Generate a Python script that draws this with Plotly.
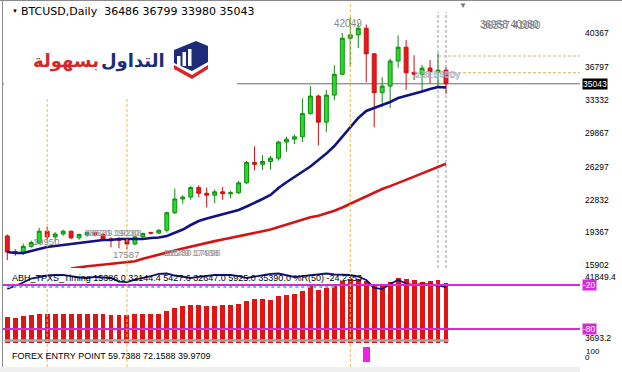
import plotly.graph_objects as go

# ---------------- data ----------------
opens = [19000, 17350, 17200, 17900, 18250, 19500, 18900, 19200, 19500, 18800,
         19150, 19350, 19150, 18700, 18600, 18550, 18150, 18900, 19350, 19300,
         19600, 21450, 22900, 23100, 24100, 23500, 23300, 23650, 23450, 23550,
         24600, 26750, 26550, 26850, 27200, 28900, 29200, 29450, 31900, 33750,
         31000, 33850, 36050, 39850, 40200, 40900, 38200, 34100, 34800, 37450,
         38900, 36250, 36050, 36700, 36300, 36486]
highs = [19150, 17600, 18200, 18500, 19850, 19950, 19400, 19650, 19550, 19250,
         19450, 19450, 19300, 18850, 18850, 18650, 19000, 19350, 19450, 19700,
         21550, 24000, 23300, 24250, 24350, 24100, 23900, 24150, 23800, 24800,
         26900, 28450, 27500, 27450, 29050, 29450, 29700, 33500, 34800, 33900,
         34400, 37000, 40400, 42049, 41400, 41300, 38250, 35750, 37700, 40150,
         39650, 38050, 37050, 37550, 38250, 36799]
lows = [16450, 16900, 17000, 17750, 18150, 18300, 18400, 19000, 18650, 18600,
        18900, 18950, 18450, 17800, 17700, 17587, 18050, 18800, 19150, 19200,
        19350, 21300, 22400, 22800, 23100, 22000, 22450, 22800, 22950, 23400,
        24450, 25900, 25950, 26000, 26950, 27900, 28700, 28900, 31800, 28550,
        29950, 33300, 35950, 36800, 38800, 35200, 30450, 32600, 32500, 36750,
        34400, 35450, 34200, 35050, 34600, 33980]
closes = [17300, 17200, 17900, 18300, 19500, 18900, 19200, 19500, 18800, 19150,
          19350, 19150, 18700, 18600, 18550, 18150, 18900, 19250, 19300, 19600,
          21450, 22900, 23100, 24100, 23500, 23300, 23650, 23450, 23550, 24600,
          26750, 26550, 26850, 27200, 28900, 29200, 29450, 31900, 33750, 31000,
          33850, 36050, 39850, 40200, 40900, 38200, 34100, 34800, 37450, 38900,
          36200, 36050, 36700, 36300, 36486, 35043]
ma_fast = [17305, 17200, 17200, 17410, 17621, 17832, 17937, 18043, 18148, 18254,
           18359, 18465, 18570, 18570, 18676, 18676, 18676, 18676, 18781, 18830,
           18992, 19308, 19677, 20152, 20574, 20838, 21049, 21260, 21470, 21734,
           22103, 22472, 22894, 23316, 24054, 24666, 25214, 25794, 26322, 26997,
           27682, 28483, 29432, 30487, 31436, 32174, 32490, 32806, 33122, 33544,
           33755, 34019, 34230, 34494, 34705, 34652]
ma_slow = [None, None, None, None, None, None, None, None, 15560, 15720,
           15800, 15880, 15960, 16040, 16120, 16200, 16330, 16600, 16800, 17000,
           17220, 17453, 17685, 17896, 18085, 18265, 18454, 18634, 18792, 18961,
           19151, 19319, 19498, 19678, 19941, 20194, 20437, 20690, 20965, 21123,
           21365, 21650, 22000, 22400, 22800, 23200, 23600, 23950, 24250, 24560,
           24866, 25256, 25594, 25931, 26269, 26606]
timing_bars = [-64.1, -65.5, -63.3, -61.9, -59.6, -59.6, -60.6, -59.6, -59.6, -60.6,
               -59.6, -59.6, -59.6, -61.9, -61.9, -61.9, -59.6, -59.6, -59.6, -59.6,
               -56.5, -51.8, -49.7, -48.3, -47.5, -49.0, -48.6, -48.3, -48.0, -46.5,
               -42.8, -39.2, -39.2, -40.5, -36.0, -34.7, -32.7, -28.2, -22.4, -26.9,
               -24.6, -20.1, -14.6, -11.9, -11.9, -15.6, -21.0, -20.1, -16.4, -10.9,
               -11.9, -13.2, -16.4, -14.6, -13.2, -17.7]
wpr_line = [-25.5, -21.4, -16.6, -11.2, -9.1, -7.1, -6.4, -6.4, -7.8, -9.8,
            -10.5, -9.1, -9.8, -10.5, -15.3, -16.0, -12.6, -10.5, -7.8, -5.0,
            -4.4, -7.1, -9.1, -10.5, -9.1, -7.8, -6.4, -6.4, -6.4, -7.8,
            -10.5, -8.5, -6.4, -5.0, -4.4, -6.4, -9.1, -7.8, -6.4, -5.0,
            -4.4, -5.7, -6.4, -6.4, -8.5, -13.2, -24.1, -25.5, -18.7, -13.2,
            -18.0, -20.1, -18.7, -19.4, -20.7, -22.8]
signal_idx = [45]
signal_val = [100]
price_ticks = [40367, 36797, 33332, 29867, 26297, 22832, 19367, 15902]
last_price = 35043
level_hi, level_lo = -20, -80
cyan_level = -22.8
marked_idx = [5, 15, 43]
current_idx = [54, 55]
dash_levels = [37973, 36212]
bar_index = list(range(len(closes)))

# ---------------- geometry helpers (pixel -> paper) ----------------
W, H = 622, 372
ML, MR, MT, MB = 3, 42, 2, 5
PW, PH = W - ML - MR, H - MT - MB
def px(x):
    return (x - ML) / PW
def py(y):
    return (H - MB - y) / PH

X0, X1 = -0.539, 71.8
FONT = "Liberation Sans"

fig = go.Figure()
fig.add_trace(go.Candlestick(
    x=bar_index, open=opens, high=highs, low=lows, close=closes,
    increasing=dict(line=dict(color="#138a13", width=1), fillcolor="#22e022"),
    decreasing=dict(line=dict(color="#c81010", width=1), fillcolor="#e51a1a"),
    xaxis="x", yaxis="y", hoverinfo="skip"))
fig.add_trace(go.Scatter(x=bar_index, y=ma_slow, mode="lines",
                         line=dict(color="#d41414", width=2.6), xaxis="x", yaxis="y", hoverinfo="skip"))
fig.add_trace(go.Scatter(x=bar_index, y=ma_fast, mode="lines",
                         line=dict(color="#121280", width=2.6), xaxis="x", yaxis="y", hoverinfo="skip"))
fig.add_trace(go.Bar(x=bar_index, y=[v + 100 for v in timing_bars], base=-100, width=0.62,
                     marker=dict(color="#e01414", line=dict(width=0)), xaxis="x", yaxis="y2", hoverinfo="skip"))
fig.add_trace(go.Scatter(x=bar_index, y=wpr_line, mode="lines",
                         line=dict(color="#101078", width=1.8), xaxis="x", yaxis="y2", hoverinfo="skip"))
fig.add_trace(go.Bar(x=signal_idx, y=signal_val, width=0.85,
                     marker=dict(color="#f020e8", line=dict(width=0)), xaxis="x", yaxis="y3", hoverinfo="skip"))

shapes = []
shapes.append(dict(type="line", xref="x", yref="y2", x0=-0.35, x1=55.35, y0=-95.5, y1=-95.5,
                   line=dict(color="#a6a6a6", width=2.5), layer="above"))
shapes.append(dict(type="line", xref="x", yref="y", x0=X0, x1=X1, y0=last_price, y1=last_price,
                   line=dict(color="#6a6a6a", width=1), layer="below"))
for lv in dash_levels:
    shapes.append(dict(type="line", xref="x", yref="y", x0=current_idx[0], x1=X1, y0=lv, y1=lv,
                       line=dict(color="#dcae6a", width=1, dash="3px,2px"), layer="below"))
for ci in current_idx:
    shapes.append(dict(type="line", xref="x", yref="paper", x0=ci, x1=ci, y0=py(268), y1=py(12),
                       line=dict(color="#9a9a9a", width=1, dash="3px,2px"), layer="below"))
shapes.append(dict(type="line", xref="x", yref="y2", x0=0, x1=41, y0=cyan_level, y1=cyan_level,
                   line=dict(color="#4cc8f0", width=2, dash="dot"), layer="above"))
for lv in (level_hi, level_lo):
    shapes.append(dict(type="line", xref="x", yref="y2", x0=X0, x1=X1, y0=lv, y1=lv,
                       line=dict(color="#d62ad6", width=2), layer="above"))
for mi in marked_idx:
    shapes.append(dict(type="line", xref="x", yref="paper", x0=mi, x1=mi, y0=py(372), y1=1,
                       line=dict(color="#ecbc4a", width=1, dash="3px,2px"), layer="above"))
shapes.append(dict(type="rect", xref="paper", yref="paper", x0=px(4), x1=px(237), y0=py(97), y1=py(5),
                   fillcolor="white", line=dict(width=0), layer="above"))
def path(pts):
    return "M " + " L ".join(f"{px(a):.5f},{py(b):.5f}" for a, b in pts) + " Z"
shapes.append(dict(type="path", xref="paper", yref="paper",
                   path=path([(174, 50), (196, 41), (208, 46), (208, 62), (192, 71), (174, 63)]),
                   fillcolor="#1d2c78", line=dict(width=0), layer="above"))
shapes.append(dict(type="path", xref="paper", yref="paper",
                   path=path([(174, 65), (192, 75), (208, 65), (208, 69), (192, 79), (174, 69)]),
                   fillcolor="#d9252a", line=dict(width=0), layer="above"))
for (a, b, c) in [(177, 56, 180.5), (182.5, 52, 186), (188, 49, 191.5)]:
    shapes.append(dict(type="rect", xref="paper", yref="paper", x0=px(a), x1=px(c), y0=py(66), y1=py(b),
                       fillcolor="white", line=dict(width=0), layer="above"))
shapes.append(dict(type="rect", xref="paper", yref="paper", x0=px(0), x1=px(580), y0=py(372), y1=py(367),
                   fillcolor="#efefef", line=dict(width=0), layer="above"))
shapes.append(dict(type="line", xref="paper", yref="paper", x0=px(2.5), x1=px(2.5), y0=py(367), y1=py(0),
                   line=dict(color="#8a8a8a", width=1), layer="above"))
shapes.append(dict(type="line", xref="paper", yref="paper", x0=px(0), x1=px(622), y0=py(0.5), y1=py(0.5),
                   line=dict(color="#8a8a8a", width=1), layer="above"))

ann = []
def text(x, y, s, size=9, color="black", anchor="left", family=FONT):
    ann.append(dict(xref="paper", yref="paper", x=px(x), y=py(y), text=s, showarrow=False,
                    xanchor=anchor, yanchor="middle", font=dict(family=family, size=size, color=color)))

text(10, 11.5, "▼", size=6)
text(19, 11.5, "BTCUSD,Daily  36486 36799 33980 35043", size=11, family="DejaVu Sans")
text(463, 6, "▼", size=8, color="#777777", anchor="center")
ann.append(dict(xref="paper", yref="paper", x=px(167), y=py(61), text="<b>التداول</b>", showarrow=False,
                xanchor="right", yanchor="middle", font=dict(family="DejaVu Sans", size=18, color="#1d2c78")))
ann.append(dict(xref="paper", yref="paper", x=px(101), y=py(61), text="<b>بسهولة</b>", showarrow=False,
                xanchor="right", yanchor="middle", font=dict(family="DejaVu Sans", size=18, color="#d9252a")))
text(348, 24, "42049", size=10, color="#8a8a8a", anchor="center")
text(46, 241, "19950", size=9.5, color="#8a8a8a", anchor="center")
text(111, 232, "18670 19030", size=9.5, color="#9a9a9a", anchor="center")
text(113, 233, "18839 19288", size=9.5, color="#9a9a9a", anchor="center")
text(126, 255, "17587", size=9.5, color="#8a8a8a", anchor="center")
text(190, 252, "18549 17438", size=9.5, color="#9a9a9a", anchor="center")
text(192, 253, "18230 17998", size=9.5, color="#9a9a9a", anchor="center")
text(509, 25, "36958 40980", size=10, color="#7a7a7a", anchor="center")
text(511, 26, "36357 41080", size=10, color="#7a7a7a", anchor="center")
text(436, 74, "1/35 E5B5y", size=9, color="#a8b8c8", anchor="center")
text(438, 75, "1/3ES85Dy", size=9, color="#a8b8c8", anchor="center")
text(10, 278, "ABH_TPXS_Timing 15386.0 32144.4 5427.6 32647.0 5925.0 35390.0 %R(50) -24.2353", size=9)
text(10, 356, "FOREX ENTRY POINT 59.7388 72.1588 39.9709", size=9)
ann.append(dict(xref="paper", yref="y", x=px(582), y=last_price, text="35043", showarrow=False,
                xanchor="left", yanchor="middle", bgcolor="black", borderpad=0,
                font=dict(family=FONT, size=8.5, color="white")))
text(583, 277, "41849.4", size=8.5)
text(583, 338, "3693.2", size=8.5)
for lv in (level_hi, level_lo):
    ann.append(dict(xref="paper", yref="y2", x=px(582), y=lv, text=str(lv), showarrow=False,
                    xanchor="left", yanchor="middle", bgcolor="#d62ad6", borderpad=0,
                    font=dict(family=FONT, size=8.5, color="white")))
text(584, 351, "100", size=8)
text(583, 357, "0", size=8)

fig.update_layout(
    width=W, height=H, margin=dict(l=ML, r=MR, t=MT, b=MB),
    paper_bgcolor="white", plot_bgcolor="white", showlegend=False, hovermode=False,
    xaxis=dict(range=[X0, X1], showgrid=False, zeroline=False, showticklabels=False,
               rangeslider=dict(visible=False), fixedrange=True, anchor="y"),
    yaxis=dict(domain=[py(268), 1], range=[15618, 43668], side="right", showgrid=False, zeroline=False,
               tickvals=price_ticks, ticktext=[str(v) for v in price_ticks], ticks="",
               tickfont=dict(family=FONT, size=8.5, color="black"), ticklabelstandoff=4, anchor="x",
               fixedrange=True),
    yaxis2=dict(domain=[py(343.7), py(270.3)], range=[-100, 0], showgrid=False, zeroline=False,
                showticklabels=False, anchor="x", fixedrange=True),
    yaxis3=dict(domain=[py(362), py(347)], range=[0, 100], showgrid=False, zeroline=False,
                showticklabels=False, anchor="x", fixedrange=True),
    shapes=shapes, annotations=ann, bargap=0,
)
fig.write_html("out.html", config={"displayModeBar": False},
               post_script="document.body.style.margin='0';document.body.style.overflow='hidden';")
